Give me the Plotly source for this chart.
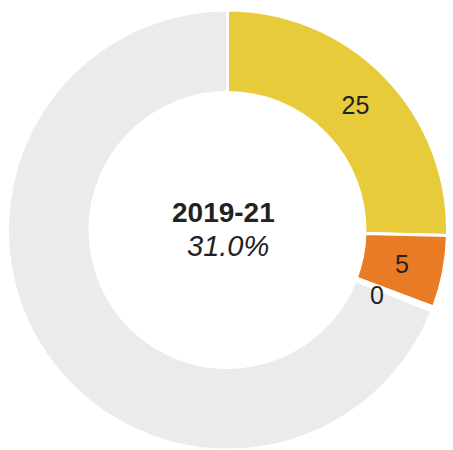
import math
import plotly.graph_objects as go

categories = ["Group A", "Group B", "Group C", "Remainder"]
values = [25.4, 5.3, 0.3, 69.0]
labels_text = ["25", "5", "0", ""]
colors = ["#E8CB3A", "#E87B24", "#FFFFFF", "#EBEBEB"]
period = "2019-21"
share = "31.0%"

W, H = 453, 450
ML, MR, MT, MB = 3, 1, 10, 0
HOLE = 0.625
SMALL = 10  # slices below this share get their label as an annotation

pie_text = [t if v >= SMALL else "" for t, v in zip(labels_text, values)]

fig = go.Figure(go.Pie(
    labels=categories,
    values=values,
    text=pie_text,
    textinfo="text",
    textposition="inside",
    insidetextorientation="horizontal",
    textfont=dict(family="Liberation Sans, Arial", size=25, color="#222222"),
    marker=dict(colors=colors, line=dict(color="#FFFFFF", width=3)),
    hole=HOLE,
    sort=False,
    direction="clockwise",
    rotation=0,
    showlegend=False,
    hoverinfo="label+value",
))

pw, ph = W - ML - MR, H - MT - MB
R = min(pw, ph) / 2
total = sum(values)
cum = 0.0
for t, v in zip(labels_text, values):
    if t and v < SMALL:
        if v < 1:
            ang = 2 * math.pi * (cum + v / 2) / total + 0.04
            rr = R * 0.74
        else:
            ang = 2 * math.pi * (cum + v / 2) / total
            rr = R * 0.81
        fig.add_annotation(
            x=0.5 + rr * math.sin(ang) / pw, y=0.5 + rr * math.cos(ang) / ph,
            xref="paper", yref="paper", xanchor="center", yanchor="middle",
            showarrow=False, text=t,
            font=dict(family="Liberation Sans, Arial", size=25, color="#222222"))
    cum += v

fig.add_annotation(x=0.49, y=0.54, xref="paper", yref="paper", showarrow=False,
                   xanchor="center", yanchor="middle",
                   text="<b>" + period + "</b>",
                   font=dict(family="Liberation Sans, Arial", size=28, color="#222222"))
fig.add_annotation(x=0.5, y=0.463, xref="paper", yref="paper", showarrow=False,
                   xanchor="center", yanchor="middle",
                   text="<i>" + share + "</i>",
                   font=dict(family="Liberation Sans, Arial", size=29, color="#222222"))

fig.update_layout(
    width=W, height=H,
    margin=dict(l=ML, r=MR, t=MT, b=MB),
    paper_bgcolor="white",
    plot_bgcolor="white",
    uniformtext=dict(minsize=25, mode="show"),
)

fig.write_html("out.html")
